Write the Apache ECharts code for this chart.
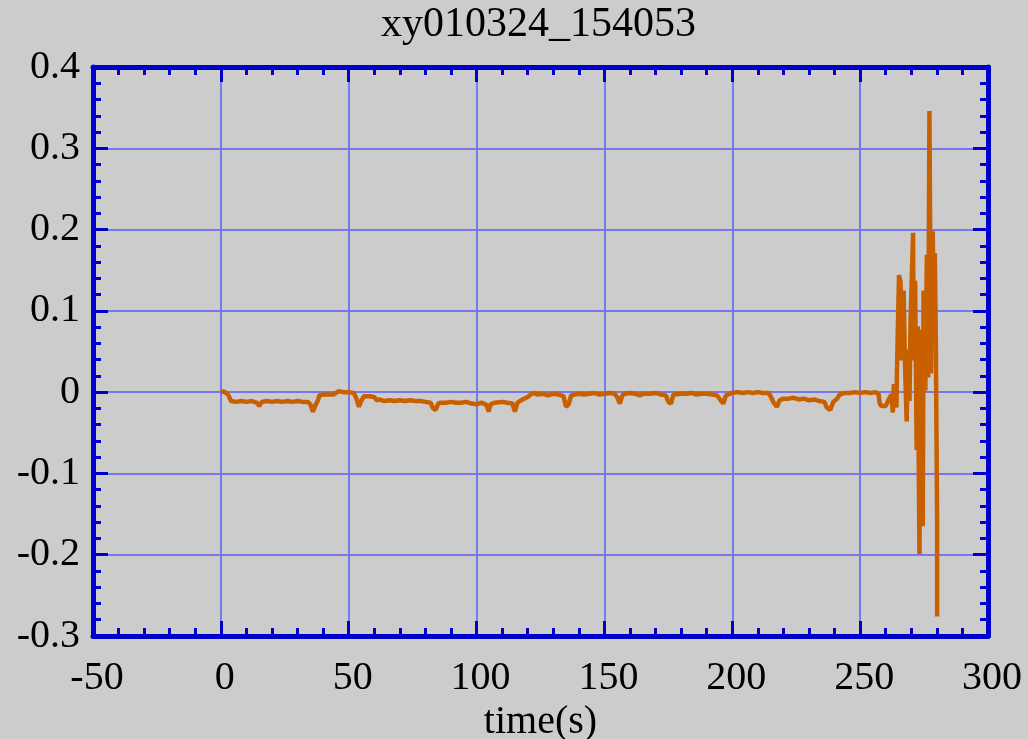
<!DOCTYPE html>
<html>
<head>
<meta charset="utf-8">
<script src="https://cdn.jsdelivr.net/npm/echarts@6/dist/echarts.min.js"></script>
<style>html,body{margin:0;padding:0;background:#cccccc;}#c{width:1028px;height:739px;}</style>
</head>
<body>
<div id="c"></div>
<script>
const titleText = 'xy010324_154053';
const xName = 'time(s)';
const xTicks = { min: -50, max: 300, step: 50 };
const yTicks = { min: -0.3, max: 0.4, step: 0.1 };

const timeS = [
  0, 1, 2, 3, 4, 6, 8, 10, 12, 14, 15, 16, 18, 20, 22, 24, 26, 28, 30, 32, 34, 35, 36, 37, 38, 38.5,
  40, 42, 44, 46, 48, 50, 52, 53, 54, 55, 56, 58, 60, 61, 62, 64, 66, 68, 70, 72, 74, 76, 78, 80,
  82, 83, 84, 85, 86, 88, 90, 92, 94, 96, 98, 100, 102, 104, 104.7, 105.5, 107, 110, 112, 114, 115,
  116, 118, 120, 122, 124, 126, 128, 130, 132, 134, 135, 136, 137, 140, 142, 144, 146, 148, 150,
  152, 154, 155, 156, 157, 158, 160, 162, 164, 165, 168, 170, 172, 174, 175, 176, 177, 180, 182,
  184, 186, 188, 190, 192, 194, 195.5, 196.5, 197.5, 200, 202, 204, 206, 208, 210, 212, 214, 215,
  216, 217.4, 218.5, 220, 222, 224, 226, 228, 230, 232, 234, 236, 237, 238.3, 239.5, 241, 242, 244,
  246, 248, 250, 252, 254, 256, 257.2, 257.6, 258.2, 260, 261.2, 262.2, 262.8, 263.2, 263.9, 264.2,
  264.4, 265.2, 265.8, 266.3, 267.0, 267.5, 268.2, 268.7, 269.3, 269.7, 270.7, 270.9, 271.5, 272.1,
  272.5, 273.2, 273.7, 274.1, 274.5, 274.8, 275.5, 276.1, 276.6, 277.1, 277.7, 278.4, 278.8, 279.2,
  279.6, 280.2, 280.1, 280.1
];
const valueV = [
  0.000, 0.001, -0.001, -0.004, -0.011, -0.012, -0.011, -0.012, -0.011, -0.013, -0.017, -0.012, -0.011, -0.012, -0.011, -0.012, -0.011, -0.012, -0.011, -0.012, -0.012, -0.015, -0.024, -0.016, -0.010, -0.004,
  -0.003, -0.003, -0.003, 0.001, 0.000, 0.000, -0.001, -0.008, -0.018, -0.010, -0.005, -0.005, -0.006, -0.010, -0.009, -0.011, -0.010, -0.011, -0.010, -0.011, -0.010, -0.011, -0.011, -0.012,
  -0.013, -0.020, -0.022, -0.014, -0.013, -0.013, -0.012, -0.013, -0.013, -0.012, -0.014, -0.015, -0.013, -0.016, -0.024, -0.015, -0.013, -0.012, -0.013, -0.014, -0.024,
  -0.013, -0.009, -0.006, -0.001, -0.003, -0.002, -0.004, -0.002, -0.003, -0.005, -0.018, -0.015, -0.004, -0.002, -0.003, -0.002, -0.001, -0.003, -0.002,
  -0.001, -0.002, -0.006, -0.014, -0.004, -0.002, -0.001, -0.002, -0.004, -0.002, -0.002, -0.001, -0.003, -0.004, -0.012, -0.014, -0.003, -0.002, -0.002,
  -0.001, -0.003, -0.002, -0.002, -0.003, -0.004, -0.010, -0.014, -0.004, -0.001, 0.000, -0.001, 0.000, -0.001, 0.000, -0.001, -0.001, -0.005,
  -0.012, -0.018, -0.010, -0.008, -0.008, -0.007, -0.009, -0.008, -0.010, -0.009, -0.011, -0.012, -0.019, -0.022, -0.012, -0.008, -0.003, -0.001,
  -0.001, 0.000, -0.001, 0.000, -0.001, 0.000, -0.002, -0.013, -0.017, -0.017, -0.009, -0.003, -0.025, 0.010, 0.008, -0.019,
  0.027, 0.144, 0.135, 0.039, 0.125, 0.039, -0.036, 0.052, -0.011, 0.085, 0.196, 0.039, 0.137, -0.071,
  0.081, -0.199, 0.077, 0.039, -0.165, 0.125, 0.002, 0.169, 0.018, 0.346, 0.023, 0.198, 0.073, 0.171,
  0.062, 0.060, -0.157, -0.276
];

const seriesData = timeS.map((t, i) => [t, valueV[i]]);

const axisBlue = '#0000cc';
const gridBlue = '#7777ee';
const font = 'Liberation Serif';

function mkX(pos, showLabel) {
  return {
    type: 'value', position: pos, min: xTicks.min, max: xTicks.max, interval: xTicks.step,
    axisLine: { show: true, onZero: false, lineStyle: { color: axisBlue, width: 5 } },
    axisTick: { show: true, inside: true, length: 15, lineStyle: { color: axisBlue, width: 3 } },
    minorTick: { show: true, splitNumber: 5, length: 8, lineStyle: { color: axisBlue, width: 3 } },
    splitLine: { show: showLabel, lineStyle: { color: gridBlue, width: 2, type: 'solid' } },
    axisLabel: { show: showLabel, fontSize: 40, fontFamily: font, color: '#000', margin: 22, padding: [0, 0, 0, 8], showMinLabel: true, showMaxLabel: true },
    name: showLabel ? xName : '', nameLocation: 'middle', nameGap: 58,
    nameTextStyle: { fontSize: 40, fontFamily: font, color: '#000' }
  };
}
function mkY(pos, showLabel) {
  return {
    type: 'value', position: pos, min: yTicks.min, max: yTicks.max, interval: yTicks.step,
    axisLine: { show: true, onZero: false, lineStyle: { color: axisBlue, width: 5 } },
    axisTick: { show: true, inside: true, length: 15, lineStyle: { color: axisBlue, width: 3 } },
    minorTick: { show: true, splitNumber: 5, length: 8, lineStyle: { color: axisBlue, width: 3 } },
    splitLine: { show: showLabel, lineStyle: { color: gridBlue, width: 2, type: 'solid' } },
    axisLabel: { show: showLabel, fontSize: 40, fontFamily: font, color: '#000', margin: 13, showMinLabel: true, showMaxLabel: true }
  };
}

const chart = echarts.init(document.getElementById('c'), null, { renderer: 'canvas' });
chart.setOption({
  backgroundColor: '#cccccc',
  animation: false,
  title: { text: titleText, left: 376, top: -1, textStyle: { fontSize: 42, fontFamily: font, fontWeight: 'normal', color: '#000' } },
  grid: { left: 93, right: 40, top: 67, bottom: 103, containLabel: false, outerBoundsMode: 'none' },
  xAxis: [mkX('bottom', true), mkX('top', false)],
  yAxis: [mkY('left', true), mkY('right', false)],
  series: [{
    type: 'line', data: seriesData, showSymbol: false, symbol: 'none',
    lineStyle: { color: '#c86000', width: 4.5 }, itemStyle: { color: '#c86000' },
    clip: true, z: 3
  }]
});
</script>
</body>
</html>
